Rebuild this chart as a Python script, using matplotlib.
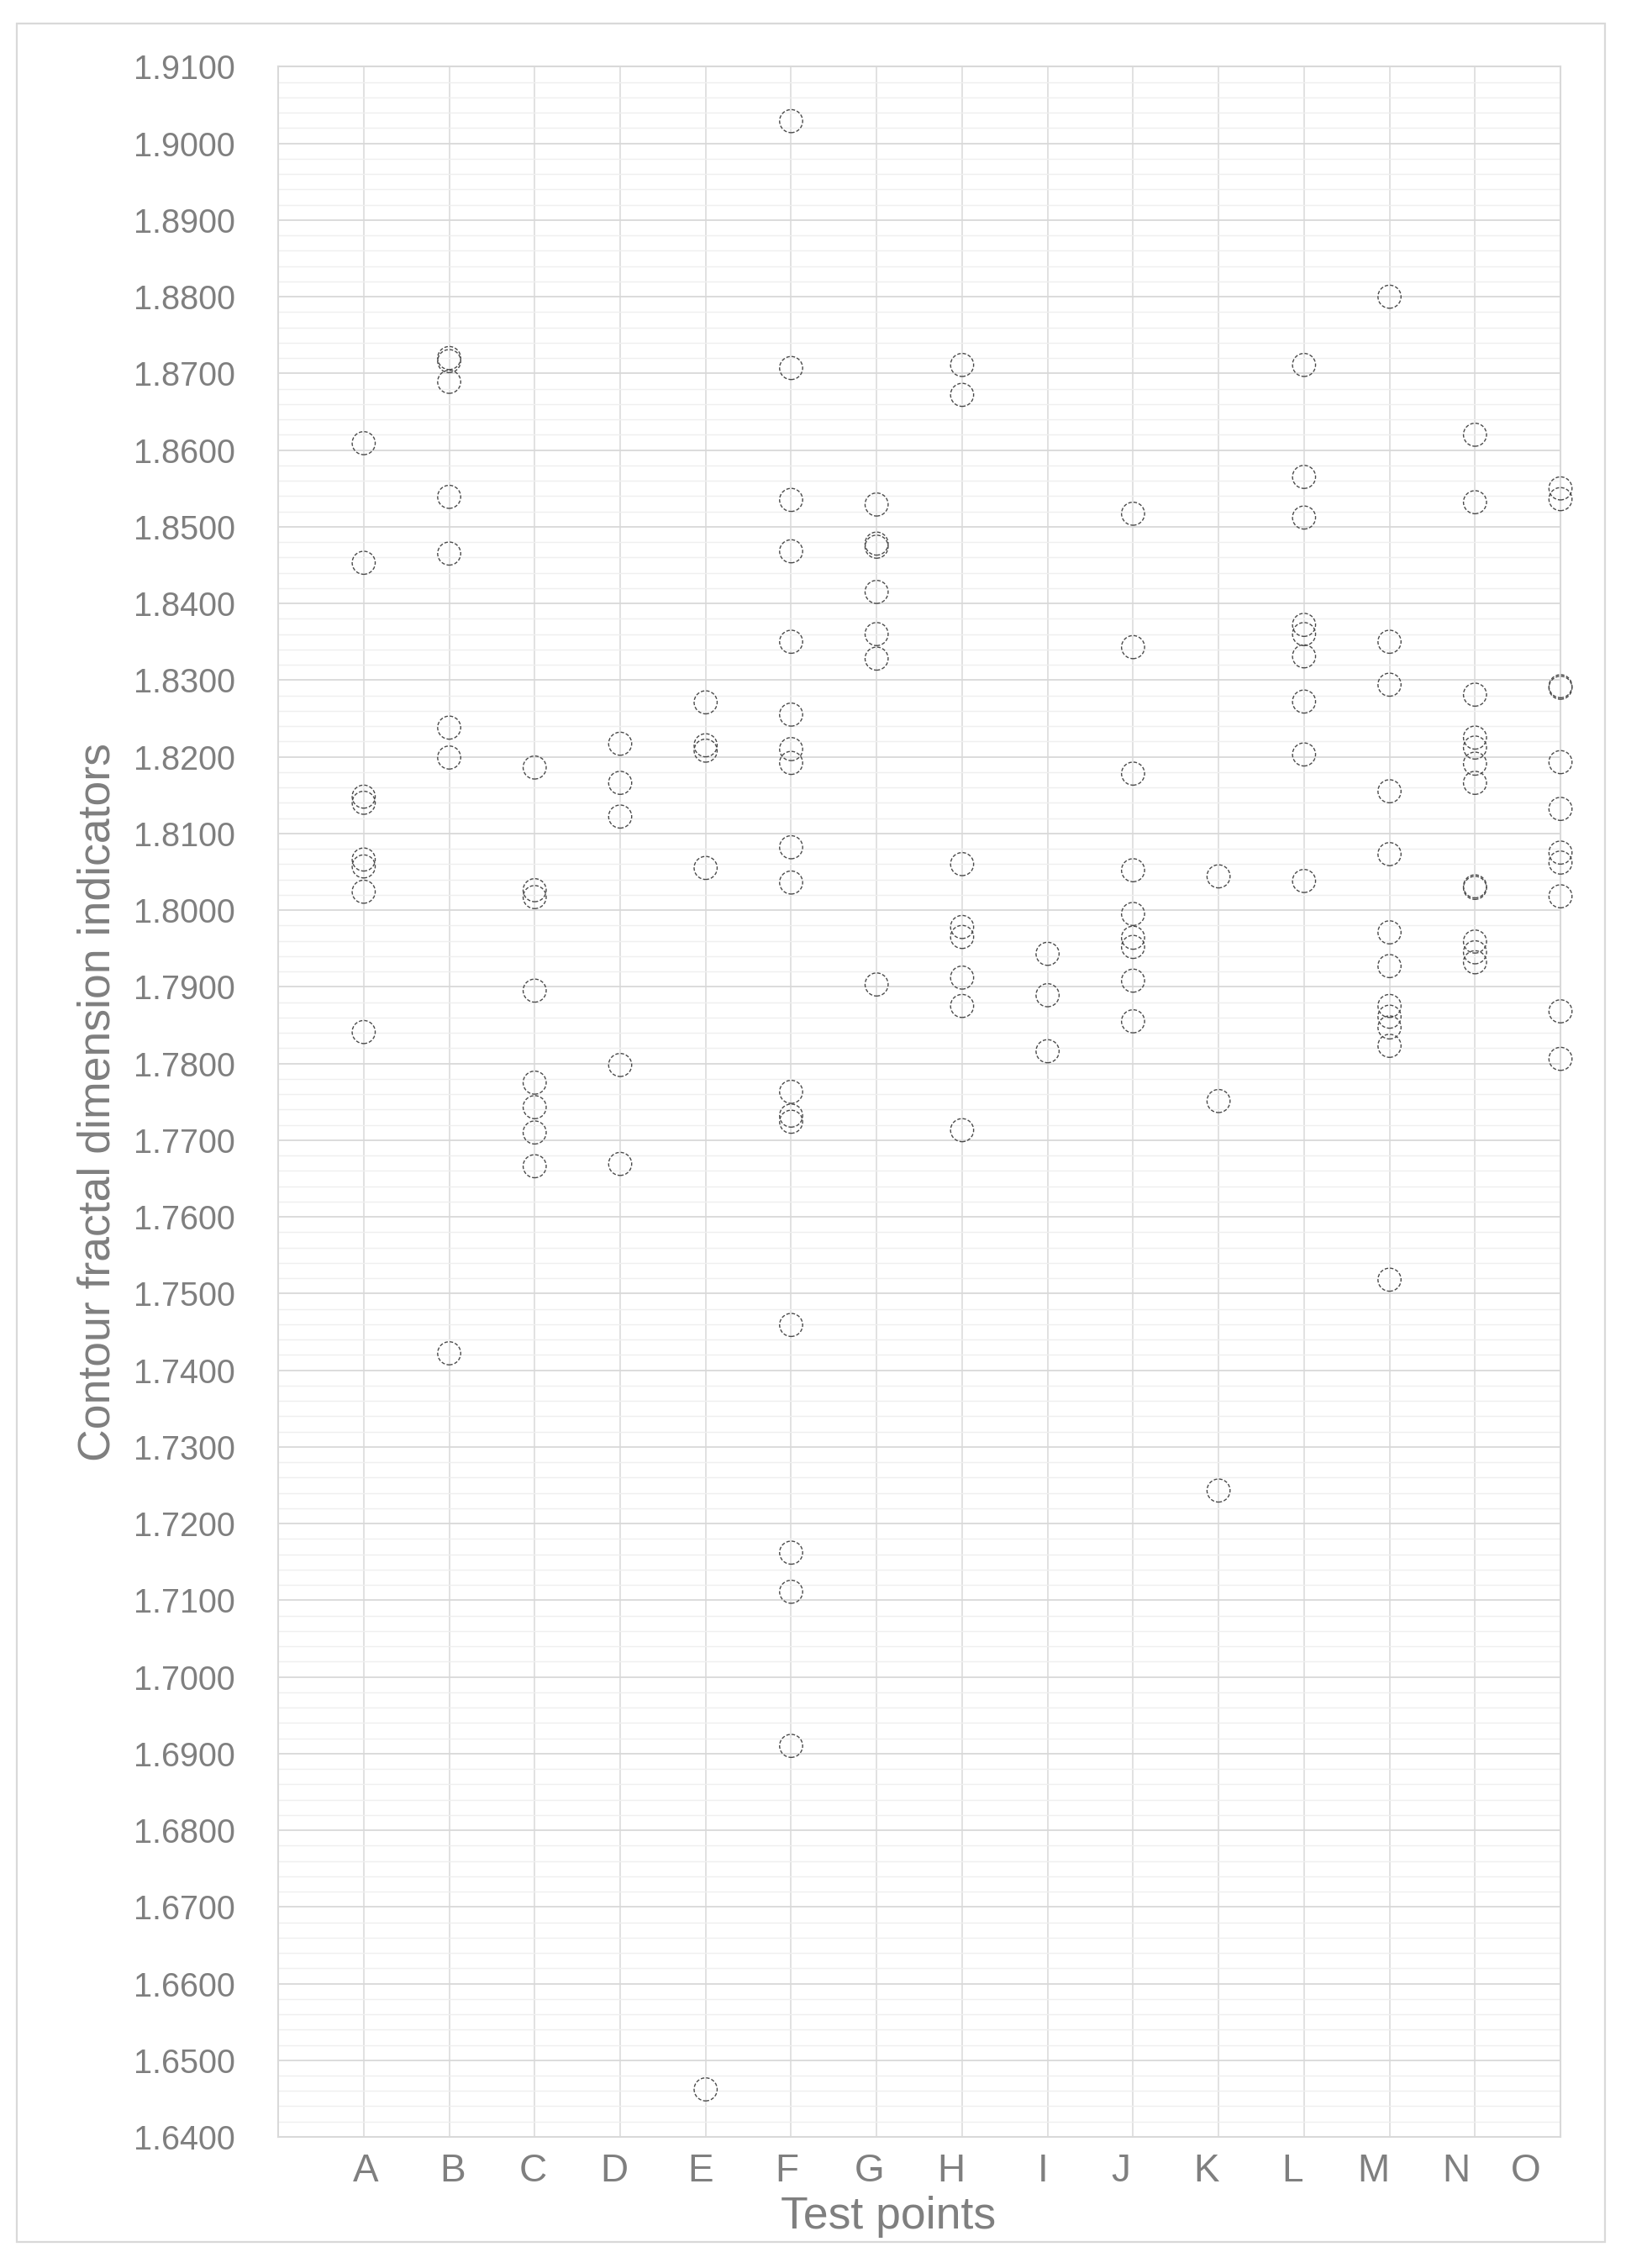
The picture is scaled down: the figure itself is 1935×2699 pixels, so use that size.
import matplotlib
matplotlib.use("Agg")
import matplotlib.pyplot as plt
from matplotlib.ticker import MultipleLocator, FixedLocator, FormatStrFormatter
from matplotlib.patches import Rectangle

plt.rcParams['font.family'] = ['Liberation Sans', 'DejaVu Sans']

# ---- data ----
categories = ['A', 'B', 'C', 'D', 'E', 'F', 'G', 'H', 'I', 'J', 'K', 'L', 'M', 'N', 'O']

A = [1.8609, 1.8453, 1.8148, 1.8140, 1.8066, 1.8057, 1.8024, 1.7841]
B = [1.8720, 1.8716, 1.8689, 1.8539, 1.8465, 1.8238, 1.8199, 1.7422]
C = [1.8186, 1.8026, 1.8017, 1.7895, 1.7775, 1.7743, 1.7710, 1.7666]
D = [1.8217, 1.8166, 1.8122, 1.7798, 1.7669]
E = [1.8271, 1.8215, 1.8208, 1.8055, 1.6462]
F = [1.9029, 1.8707, 1.8535, 1.8468, 1.8350, 1.8255, 1.8210, 1.8192, 1.8082,
     1.8036, 1.7763, 1.7732, 1.7724, 1.7459, 1.7162, 1.7111, 1.6910]
G = [1.8529, 1.8478, 1.8474, 1.8415, 1.8360, 1.8328, 1.7903]
H = [1.8711, 1.8672, 1.8060, 1.7978, 1.7965, 1.7912, 1.7875, 1.7713]
I = [1.7943, 1.7889, 1.7816]
J = [1.8517, 1.8343, 1.8178, 1.8052, 1.7995, 1.7964, 1.7952, 1.7908, 1.7855]
K = [1.8044, 1.7751, 1.7243]
L = [1.8711, 1.8565, 1.8512, 1.8372, 1.8360, 1.8331, 1.8272, 1.8203, 1.8038]
M = [1.8800, 1.8350, 1.8294, 1.8155, 1.8073, 1.7971, 1.7927, 1.7875, 1.7861,
     1.7847, 1.7823, 1.7518]
N = [1.8620, 1.8532, 1.8281, 1.8225, 1.8212, 1.8191, 1.8166, 1.8031, 1.8029,
     1.7959, 1.7945, 1.7932]
O = [1.8550, 1.8536, 1.8292, 1.8290, 1.8193, 1.8132, 1.8075, 1.8062, 1.8018,
     1.7868, 1.7806]

series = [A, B, C, D, E, F, G, H, I, J, K, L, M, N, O]

# tick labels in the original sit a little off the grid lines
label_pos = [1.025, 2.04, 2.98, 3.93, 4.94, 5.95, 6.92, 7.87, 8.95, 9.86,
             10.86, 11.86, 12.81, 13.78, 14.59]

TXT = '#7f7f7f'

# ---- figure ----
fig = plt.figure(figsize=(19.35, 26.99), dpi=100)
ax = fig.add_axes([0.1711, 0.0578, 0.7886, 0.9128])

xs, ys = [], []
for i, vals in enumerate(series):
    xs += [i + 1] * len(vals)
    ys += vals

ax.scatter(xs, ys, s=390, facecolors='none', edgecolors='#4a4a4a',
           linewidths=1.0, linestyle=(0, (3, 1.6)), zorder=3, clip_on=False)

ax.set_xlim(0, 15)
ax.set_ylim(1.64, 1.91)

ax.yaxis.set_major_locator(MultipleLocator(0.01))
ax.yaxis.set_minor_locator(MultipleLocator(0.002))
ax.yaxis.set_major_formatter(FormatStrFormatter('%.4f'))

ax.xaxis.set_major_locator(FixedLocator(label_pos))
ax.set_xticklabels(categories)
ax.xaxis.set_minor_locator(FixedLocator(range(1, 15)))

ax.grid(which='major', axis='y', color='#d9d9d9', linewidth=1.3, zorder=0)
ax.grid(which='minor', axis='y', color='#efefef', linewidth=1.0, zorder=0)
ax.grid(which='minor', axis='x', color='#dedede', linewidth=1.3, zorder=0)
ax.grid(which='major', axis='x', visible=False)
ax.set_axisbelow(True)

ax.tick_params(axis='y', which='both', length=0, pad=37, labelsize=28.5, labelcolor=TXT)
ax.tick_params(axis='x', which='both', length=0, pad=14, labelsize=33, labelcolor=TXT)

for sp in ax.spines.values():
    sp.set_color('#d9d9d9')
    sp.set_linewidth(1.5)

ax.set_xlabel('Test points', fontsize=38.5, color=TXT)
ax.set_ylabel('Contour fractal dimension indicators', fontsize=38.5, color=TXT)
ax.xaxis.set_label_coords(0.476, -0.0284)
ax.yaxis.set_label_coords(-0.124, 0.5)

# light outer frame around the whole chart
fig.patches.append(Rectangle((0.0103, 0.0115), 0.9767, 0.978, transform=fig.transFigure,
                             fill=False, edgecolor='#d9d9d9', linewidth=1.6))

fig.savefig('out.png', dpi=100)
